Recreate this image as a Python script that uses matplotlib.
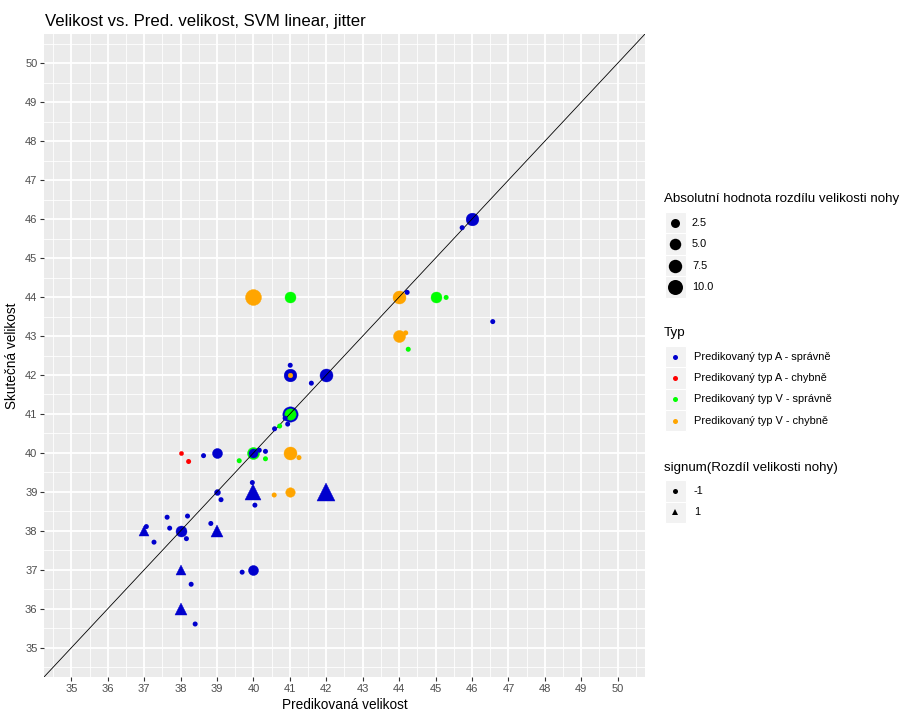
import matplotlib
matplotlib.use("Agg")
import matplotlib.pyplot as plt
from matplotlib.patches import Rectangle
import numpy as np

plt.rcParams['font.family'] = ['Liberation Sans', 'DejaVu Sans']

W, H, DPI = 904, 713, 100

# Type categories and their colours
type_labels = [
    "Predikovaný typ A - správně",
    "Predikovaný typ A - chybně",
    "Predikovaný typ V - správně",
    "Predikovaný typ V - chybně",
]
type_colors = ["#0000CD", "#FF0000", "#00FF00", "#FFA500"]

# Point layer: predicted size, true size, type index, sign of foot difference, |difference|
pt_pred = [40, 41, 44, 45, 46, 42, 41, 41, 41, 40, 40, 40, 39, 41, 41, 42, 40, 39, 39, 38, 37, 38, 38, 40, 44, 38, 41]
pt_true = [44, 44, 44, 44, 46, 42, 42, 41, 41, 40, 40, 40, 40, 40, 39, 39, 39, 39, 38, 38, 38, 37, 36, 37, 43, 40, 42]
pt_type = [3, 2, 3, 2, 0, 0, 0, 0, 2, 2, 0, 0, 0, 3, 3, 0, 0, 0, 0, 0, 0, 0, 0, 0, 3, 1, 3]
pt_sign = [-1, -1, -1, -1, -1, -1, -1, -1, -1, -1, -1, 1, -1, -1, -1, 1, 1, -1, 1, -1, 1, 1, 1, -1, -1, -1, -1]
pt_absdiff = [11.5, 4.4, 6.9, 4.4, 6.5, 6.9, 6.5, 10.5, 4.8, 5.6, 2.5, 0.2, 3.4, 6.9, 2.9,
              8.7, 6.3, 0.6, 3.4, 4.4, 2.6, 2.6, 3.4, 3.4, 5.6, 0.1, 0.2]

# Jittered layer: predicted size, true size, type index
jit_pred = [41.01, 41.59, 40.87, 40.94, 40.58, 40.16, 40.33, 38.63, 39.97, 40.04, 39.11, 37.63,
            38.19, 37.70, 38.83, 38.16, 37.27, 37.06, 38.29, 39.69, 38.40, 44.22, 46.57, 45.73,
            38.22,
            40.72, 39.61, 40.33, 45.29, 44.25,
            41.25, 40.57, 44.18, 44.10]
jit_true = [42.25, 41.79, 40.89, 40.74, 40.62, 40.07, 40.04, 39.93, 39.24, 38.66, 38.80, 38.35,
            38.38, 38.07, 38.19, 37.80, 37.71, 38.11, 36.63, 36.94, 35.61, 44.12, 43.37, 45.78,
            39.78,
            40.69, 39.80, 39.85, 43.99, 42.66,
            39.88, 38.92, 43.08, 43.94]
jit_type = [0] * 24 + [1] + [2] * 5 + [3] * 4

size_breaks = [2.5, 5.0, 7.5, 10.0]
sign_levels = [-1, 1]
major_ticks = list(range(35, 51))

PX2PT = 72.0 / DPI
FS_TITLE, FS_AXTITLE, FS_TICK, FS_LEGTITLE, FS_LEGTEXT = 12.1, 9.8, 8.0, 9.6, 7.9


def size_px(v):
    """Marker diameter in pixels for an absolute difference value."""
    return 3.0 + 12.0 * np.sqrt(max(v, 0.0) / 10.0)


def marker_for(sign):
    return '^' if sign > 0 else 'o'


def ms_for(v, sign):
    d = size_px(v)
    if sign > 0:
        d *= 1.2
    return d * PX2PT


fig = plt.figure(figsize=(W / DPI, H / DPI), dpi=DPI)
fig.patch.set_facecolor('white')

x0, x1, y0, y1 = 44, 645, 34, 677
ax = fig.add_axes([x0 / W, 1 - y1 / H, (x1 - x0) / W, (y1 - y0) / H])
ax.set_facecolor('#EBEBEB')
ax.set_xlim(34.25, 50.75)
ax.set_ylim(34.25, 50.75)
ax.set_xticks(major_ticks)
ax.set_yticks(major_ticks)
ax.set_xticks(np.arange(34.5, 51, 1.0), minor=True)
ax.set_yticks(np.arange(34.5, 51, 1.0), minor=True)
ax.grid(which='major', color='white', lw=1.3)
ax.grid(which='minor', color='white', lw=0.6)
ax.set_axisbelow(True)
for s in ax.spines.values():
    s.set_visible(False)
ax.tick_params(which='major', length=2.7, width=0.8, color='#333333',
               labelcolor='#4D4D4D', labelsize=FS_TICK, pad=2)
ax.tick_params(which='minor', length=0)

# Sized points
for i in range(len(pt_pred)):
    c = type_colors[pt_type[i]]
    ax.plot([pt_pred[i]], [pt_true[i]], linestyle='none',
            marker=marker_for(pt_sign[i]), ms=ms_for(pt_absdiff[i], pt_sign[i]),
            color=c, mec=c, mew=0.3, zorder=3 + i * 0.01)

# Identity line
ax.axline((40, 40), slope=1, color='black', lw=0.6, zorder=4)

# Jittered points
ax.scatter(jit_pred, jit_true, s=(5.0 * PX2PT) ** 2,
           c=[type_colors[t] for t in jit_type], linewidths=0, zorder=5)

# Titles
fig.text(45 / W, 1 - 26 / H, "Velikost vs. Pred. velikost, SVM linear, jitter",
         fontsize=FS_TITLE, ha='left', va='baseline', color='black')
fig.text((x0 + x1) / 2 / W, 1 - 705 / H, "Predikovaná velikost",
         fontsize=FS_AXTITLE, ha='center', va='center', color='black')
fig.text(12 / W, 1 - (y0 + y1) / 2 / H, "Skutečná velikost", rotation=90,
         fontsize=FS_AXTITLE, ha='center', va='center', color='black')

# Legends (drawn in pixel space)
lg = fig.add_axes([0, 0, 1, 1], facecolor='none')
lg.set_xlim(0, W)
lg.set_ylim(H, 0)
lg.axis('off')

key_x, key_w, key_h = 665, 21, 21.5
lab_x = 692
tit_x = 664


def key_box(yc):
    lg.add_patch(Rectangle((key_x, yc - key_h / 2), key_w, key_h,
                           facecolor='#F2F2F2', edgecolor='white', lw=0.8))


# Size legend
lg.text(tit_x, 199, "Absolutní hodnota rozdílu velikosti nohy", fontsize=FS_LEGTITLE,
        ha='left', va='center')
for j, v in enumerate(size_breaks):
    yc = 222.7 + j * 21.5
    key_box(yc)
    lg.plot([key_x + key_w / 2], [yc], 'o', ms=size_px(v) * PX2PT, color='black', mew=0)
    lg.text(lab_x, yc, f"{v:.1f}", fontsize=FS_LEGTEXT, ha='left', va='center', color='black')

# Type legend
lg.text(tit_x, 333, "Typ", fontsize=FS_LEGTITLE, ha='left', va='center')
for j, (lab, c) in enumerate(zip(type_labels, type_colors)):
    yc = 356.5 + j * 21.4
    key_box(yc)
    lg.plot([key_x + key_w / 2], [yc], 'o', ms=5.0 * PX2PT, color=c, mew=0)
    lg.text(lab_x + 2, yc, lab, fontsize=FS_LEGTEXT, ha='left', va='center', color='black')

# Sign legend
lg.text(tit_x, 468, "signum(Rozdíl velikosti nohy)", fontsize=FS_LEGTITLE, ha='left', va='center')
for j, sg in enumerate(sign_levels):
    yc = 491 + j * 21.4
    key_box(yc)
    lg.plot([key_x + key_w / 2], [yc], marker_for(sg),
            ms=(5.0 * (1.2 if sg > 0 else 1.0)) * PX2PT, color='black', mew=0)
    lg.text(lab_x + 2, yc, str(sg), fontsize=FS_LEGTEXT, ha='left', va='center', color='black')

fig.savefig("out.png", dpi=DPI)
